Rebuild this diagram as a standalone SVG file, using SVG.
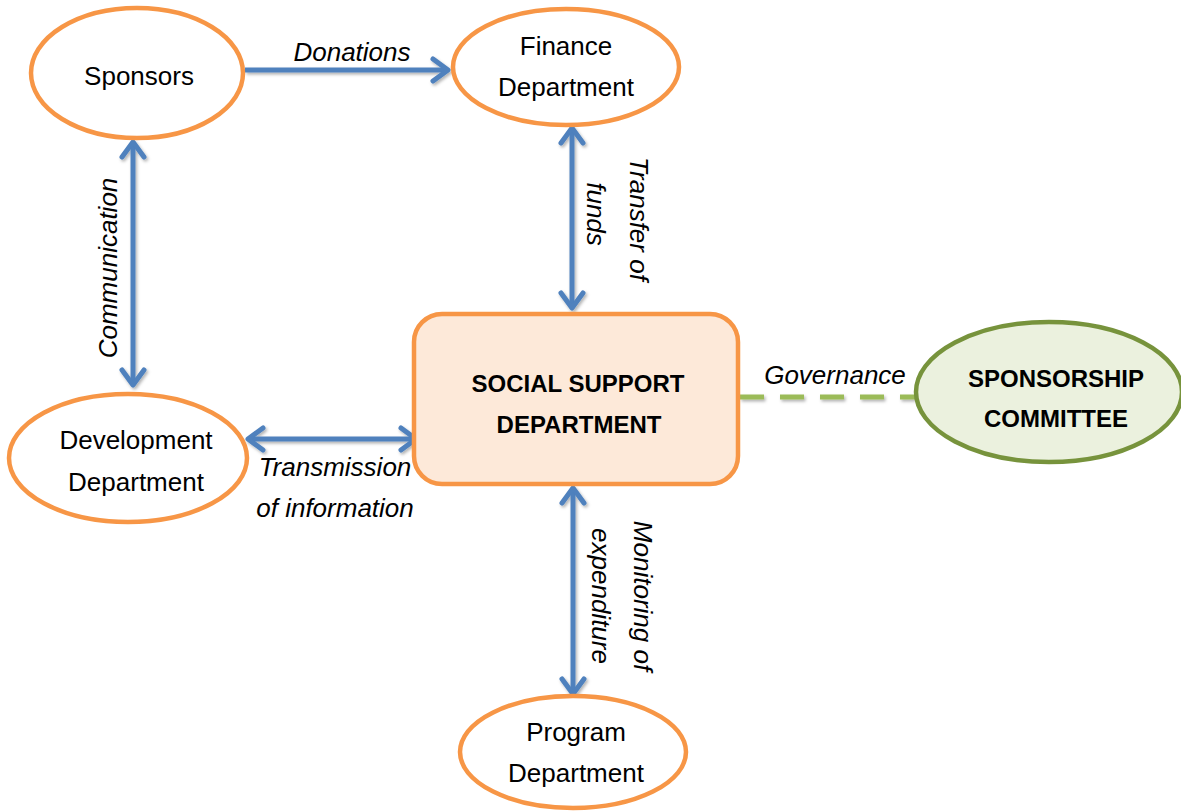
<svg xmlns="http://www.w3.org/2000/svg" width="1181" height="812" viewBox="0 0 1181 812">
<style>
.node{fill:#fff;stroke:#F79646;stroke-width:4.5}
.t{font-family:"Liberation Sans",Arial,sans-serif;font-size:26px;fill:#000;text-anchor:middle}
.lbl{font-family:"Liberation Sans",Arial,sans-serif;font-size:26px;font-style:italic;fill:#000;text-anchor:middle}
.b{font-family:"Liberation Sans",Arial,sans-serif;font-size:24px;font-weight:bold;fill:#000;text-anchor:middle}
.arr{stroke:#4F81BD;stroke-width:5;fill:none;marker-end:url(#ah)}
.arr2{stroke:#4F81BD;stroke-width:5;fill:none;marker-start:url(#ah);marker-end:url(#ah)}
</style>
<defs>
<marker id="ah" markerUnits="userSpaceOnUse" markerWidth="40" markerHeight="40" refX="0" refY="0" viewBox="-20 -20 40 40" orient="auto-start-reverse">
<path d="M-15,-11 L0,0 L-15,11" fill="none" stroke="#4F81BD" stroke-width="5" stroke-linecap="round" stroke-linejoin="round"/>
</marker>
<filter id="sh" filterUnits="userSpaceOnUse" x="0" y="0" width="1181" height="812">
<feDropShadow dx="1.5" dy="2" stdDeviation="1.5" flood-color="#000" flood-opacity="0.3"/>
</filter>
</defs>

<g id="connectors">
<g filter="url(#sh)">
<line class="arr" x1="245" y1="70" x2="448" y2="70"/>
<line class="arr2" x1="133" y1="142" x2="133" y2="385"/>
<line class="arr2" x1="572" y1="128" x2="572" y2="308"/>
<line class="arr2" x1="248" y1="439" x2="416" y2="439"/>
<line class="arr2" x1="573" y1="488" x2="573" y2="694"/>
<line x1="740" y1="397" x2="915" y2="397" stroke="#9BBB59" stroke-width="5" stroke-dasharray="24,16"/>
</g>
<text class="lbl" x="352" y="61">Donations</text>
<text class="lbl" transform="translate(117,268) rotate(-90)">Communication</text>
<text class="lbl" transform="translate(630,219) rotate(90)">Transfer of</text>
<text class="lbl" transform="translate(587,214) rotate(90)">funds</text>
<text class="lbl" x="335" y="476">Transmission</text>
<text class="lbl" x="335" y="517">of information</text>
<text class="lbl" transform="translate(634,596) rotate(90)">Monitoring of</text>
<text class="lbl" transform="translate(592,596) rotate(90)">expenditure</text>
<text class="lbl" x="835" y="384">Governance</text>
</g>

<g id="sponsors">
<ellipse class="node" cx="137" cy="73" rx="106" ry="65"/>
<text class="t" x="139" y="85">Sponsors</text>
</g>

<g id="finance">
<ellipse class="node" cx="566" cy="67" rx="113" ry="58"/>
<text class="t" x="566" y="55">Finance</text>
<text class="t" x="566" y="96">Department</text>
</g>

<g id="development">
<ellipse class="node" cx="128" cy="458" rx="119" ry="64"/>
<text class="t" x="136" y="449">Development</text>
<text class="t" x="136" y="491">Department</text>
</g>

<g id="program">
<ellipse class="node" cx="573" cy="752" rx="113" ry="56"/>
<text class="t" x="576" y="741">Program</text>
<text class="t" x="576" y="782">Department</text>
</g>

<g id="social">
<rect x="414" y="314" width="324" height="170" rx="28" ry="28" fill="#FDE9D9" stroke="#F79646" stroke-width="4.5"/>
<text class="b" x="578" y="392">SOCIAL SUPPORT</text>
<text class="b" x="579" y="433">DEPARTMENT</text>
</g>

<g id="committee">
<ellipse cx="1049" cy="392" rx="133" ry="70" fill="#EBF1DE" stroke="#77933C" stroke-width="4.5"/>
<text class="b" x="1056" y="387">SPONSORSHIP</text>
<text class="b" x="1056" y="427">COMMITTEE</text>
</g>
</svg>
